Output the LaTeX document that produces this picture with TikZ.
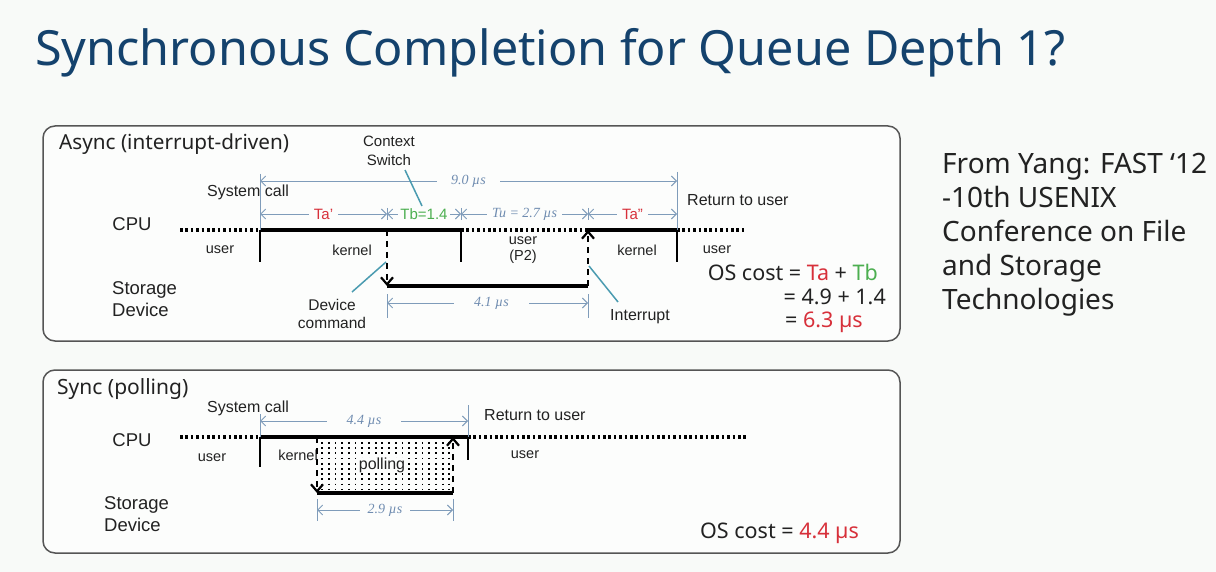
\documentclass[tikz,border=0pt]{standalone}
\usepackage{fontspec}
\setmainfont{Liberation Sans}
\newfontfamily\clearfont{Noto Sans}
\newfontfamily\dimfont{Liberation Serif}
\usetikzlibrary{arrows.meta}
\definecolor{bgc}{HTML}{F8FAF8}
\definecolor{boxc}{HTML}{FCFDFC}
\definecolor{titlec}{HTML}{14426D}
\definecolor{redc}{HTML}{D7303A}
\definecolor{greenc}{HTML}{4CAF50}
\definecolor{dimc}{HTML}{7F9CBA}
\definecolor{dimtext}{HTML}{6F8CB0}
\definecolor{leadc}{HTML}{4A9BB0}
\definecolor{framec}{HTML}{555555}
\definecolor{txtc}{HTML}{222222}
\tikzset{
  panel/.style={draw=framec, line width=1.5pt, rounded corners=12pt, fill=boxc},
  lbl/.style={text=txtc, inner sep=0pt, font=\fontsize{16}{18}\selectfont},
  small/.style={text=txtc, inner sep=0pt, font=\fontsize{14.5}{17}\selectfont},
  big/.style={text=txtc, inner sep=0pt, font=\fontsize{18.5}{22}\selectfont},
  cost/.style={text=txtc, inner sep=0pt, font=\clearfont\fontsize{21.5}{25}\selectfont},
  dimline/.style={draw=dimc, line width=0.9pt, {Straight Barb[length=5pt,width=10pt]}-{Straight Barb[length=5pt,width=10pt]}},
  ext/.style={draw=dimc, line width=0.9pt},
  dimlab/.style={fill=boxc, inner xsep=7pt, inner ysep=1pt, font=\dimfont\itshape\fontsize{14}{16}\selectfont, text=dimtext},
  seglab/.style={fill=boxc, inner xsep=5pt, inner ysep=1pt, font=\fontsize{15}{17}\selectfont},
  busy/.style={draw=black, line width=3.5pt},
  idle/.style={draw=black, line width=3.5pt, dash pattern=on 2.6pt off 2.8pt},
  tick/.style={draw=black, line width=2.8pt},
  signal/.style={draw=black, line width=2.6pt, dash pattern=on 6pt off 5pt, -{Straight Barb[length=7pt,width=12pt,line width=2.2pt]}},
  leader/.style={draw=leadc, line width=1.5pt},
  pdots/.style={draw=black, line width=1.8pt, dash pattern=on 1.8pt off 3.4pt}
}
\begin{document}
\begin{tikzpicture}[x=1pt,y=-1pt]
\useasboundingbox[fill=bgc] (0,0) rectangle (1216,572);

% title
\node[anchor=base west, inner sep=0pt, text=titlec, font=\clearfont\fontsize{48.5}{56}\selectfont] (title) at (35,66) {Synchronous Completion for Queue Depth 1?};

% right-side note
\node[anchor=north west, inner sep=0pt, align=left, text=txtc, font=\clearfont\fontsize{28}{34}\selectfont] (note) at (942,153)
  {From Yang: FAST ‘12\\-10th USENIX\\Conference on File\\and Storage\\Technologies};

%================ ASYNC PANEL ================
\draw[panel] (43,126) rectangle (900,341);
\node[anchor=base west, inner sep=0pt, text=txtc, font=\clearfont\fontsize{20.7}{24}\selectfont] (atitle) at (59,150) {Async (interrupt-driven)};

% coordinates
\coordinate (a0) at (180,230);
\coordinate (a1) at (260,230);
\coordinate (a2) at (387,230);
\coordinate (a3) at (461,230);
\coordinate (a4) at (588,230);
\coordinate (a5) at (677,230);
\coordinate (a6) at (747,230);
\coordinate (s1) at (387,286);
\coordinate (s2) at (588,286);

% CPU timeline
\draw[idle] (a0) -- (a1);
\draw[busy] (a1) -- (a3);
\draw[idle] (a3) -- (a4);
\draw[busy] (a4) -- (a5);
\draw[idle] (a5) -- (a6);
\draw[tick] (a1) -- ++(0,32);
\draw[tick] (a3) -- ++(0,32);
\draw[tick] (a5) -- ++(0,32);
% storage
\draw[busy] (s1) -- (s2);
\draw[signal] (a2) -- (s1);
\draw[signal] (s2) -- (a4);

% extension lines
\draw[ext] (260,174) -- (a1);
\draw[ext] (677,172) -- (a5);
\draw[ext] (387,208) -- (387,220);
\draw[ext] (461,208) -- (461,220);
\draw[ext] (588,208) -- (588,220);
\draw[ext] (s1) ++(0,8) -- ++(0,24);
\draw[ext] (s2) ++(0,8) -- ++(0,24);
\coordinate (e1) at (260,181);
\coordinate (e2) at (677,181);
\draw[dimline] (e1) -- node[dimlab, inner xsep=14pt] (d90) {9.0 µs} (e2);
\coordinate (g0) at (260,214);
\coordinate (g1) at (387,214);
\coordinate (g2) at (461,214);
\coordinate (g3) at (588,214);
\coordinate (g4) at (677,214);
\draw[dimline] (g0) -- node[seglab, text=redc] (ta1) {Ta’} (g1);
\draw[dimline] (g1) -- node[seglab, text=greenc, inner xsep=2pt] (tb) {Tb=1.4} (g2);
\draw[dimline] (g2) -- node[dimlab, inner xsep=5pt] (tu) {Tu = 2.7 µs} (g3);
\draw[dimline] (g3) -- node[seglab, text=redc] (ta2) {Ta”} (g4);
\coordinate (h1) at (387,303);
\coordinate (h2) at (588,303);
\draw[dimline] (h1) -- node[dimlab, inner xsep=20pt, xshift=4pt] (d41) {4.1 µs} (h2);

% labels
\node[big] (cpu1) at (132,224) {CPU};
\node[big, anchor=west, align=left, font=\fontsize{18.5}{22}\selectfont] (sto1) at (112,299) {Storage\\Device};
\node[lbl] (sys1) at (248,192) {System call};
\node[lbl, align=center, font=\fontsize{15}{18.5}\selectfont] (ctx) at (389,151) {Context\\Switch};
\node[lbl, anchor=west] (ret1) at (687,200) {Return to user};
\node[small] (u1) at (220,250) {user};
\node[small] (k1) at (352,250) {kernel};
\node[small, align=center, font=\fontsize{14.5}{16.5}\selectfont] (u2) at (523,250) {user\\(P2)};
\node[small] (k2) at (637,250) {kernel};
\node[small] (u3) at (717,250) {user};
\node[lbl, align=center, font=\fontsize{15.5}{18.5}\selectfont] (dev) at (332,314) {Device\\command};
\node[lbl] (intr) at (640,317) {Interrupt};

\coordinate (l1a) at (405,170);
\coordinate (l1b) at (422,206);
\draw[leader] (l1a) -- (l1b);
\coordinate (l2a) at (352,292);
\coordinate (l2b) at (386,262);
\draw[leader] (l2a) -- (l2b);
\coordinate (l3a) at (589,266);
\coordinate (l3b) at (618,302);
\draw[leader] (l3a) -- (l3b);

% OS cost
\node[cost, anchor=east] (c1) at (878,272) {OS cost = \textcolor{redc}{Ta} + \textcolor{greenc}{Tb}};
\node[cost, anchor=east] (c2) at (886,297) {= 4.9 + 1.4};
\node[cost, anchor=west] (c3) at (785,322) {= \textcolor{redc}{6.3 µs}};

%================ SYNC PANEL ================
\draw[panel] (43,370) rectangle (900,553);
\node[anchor=base west, inner sep=0pt, text=txtc, font=\clearfont\fontsize{21}{24}\selectfont] (stitle) at (57,394) {Sync (polling)};

\coordinate (b0) at (180,437);
\coordinate (b1) at (260,437);
\coordinate (b2) at (317,437);
\coordinate (b3) at (453,437);
\coordinate (b4) at (468,437);
\coordinate (b5) at (746,437);
\coordinate (t1) at (317,493);
\coordinate (t2) at (453,493);

% polling dots
\foreach \i in {0,...,19} {
  \draw[pdots] ({322+6.7*\i},442) -- ({322+6.7*\i},490);
}
\node[fill=boxc, inner xsep=4pt, inner ysep=2pt, lbl] (poll) at (382,465) {polling};

\node[small] (u4) at (212,458) {user};
\node[small] (k3) at (298,455) {kernel};

\draw[idle] (b0) -- (b1);
\draw[busy] (b1) -- (b4);
\draw[idle] (b4) -- (b5);
\draw[tick] (b1) -- ++(0,30);
\draw[tick] (b4) -- ++(0,23);
\draw[busy] (t1) -- (t2);
\draw[signal] (b2) -- (t1);
\draw[signal] (t2) -- (b3);

\draw[ext] (260,414) -- (b1);
\draw[ext] (468,405) -- (b4);
\draw[ext] (t1) ++(0,6) -- ++(0,22);
\draw[ext] (t2) ++(0,6) -- ++(0,22);
\coordinate (f1) at (260,421);
\coordinate (f2) at (468,421);
\draw[dimline] (f1) -- node[dimlab, inner xsep=20pt] (d44) {4.4 µs} (f2);
\coordinate (m1) at (317,510);
\coordinate (m2) at (453,510);
\draw[dimline] (m1) -- node[dimlab, inner xsep=8pt] (d29) {2.9 µs} (m2);

\node[big] (cpu2) at (132,440) {CPU};
\node[big, anchor=west, align=left, font=\fontsize{18.5}{22}\selectfont] (sto2) at (104,514) {Storage\\Device};
\node[lbl] (sys2) at (248,408) {System call};
\node[lbl, anchor=west] (ret2) at (484,415) {Return to user};
\node[small] (u5) at (525,455) {user};

\node[cost, anchor=west] (c4) at (700,533) {OS cost = \textcolor{redc}{4.4 µs}};
\end{tikzpicture}
\end{document}
